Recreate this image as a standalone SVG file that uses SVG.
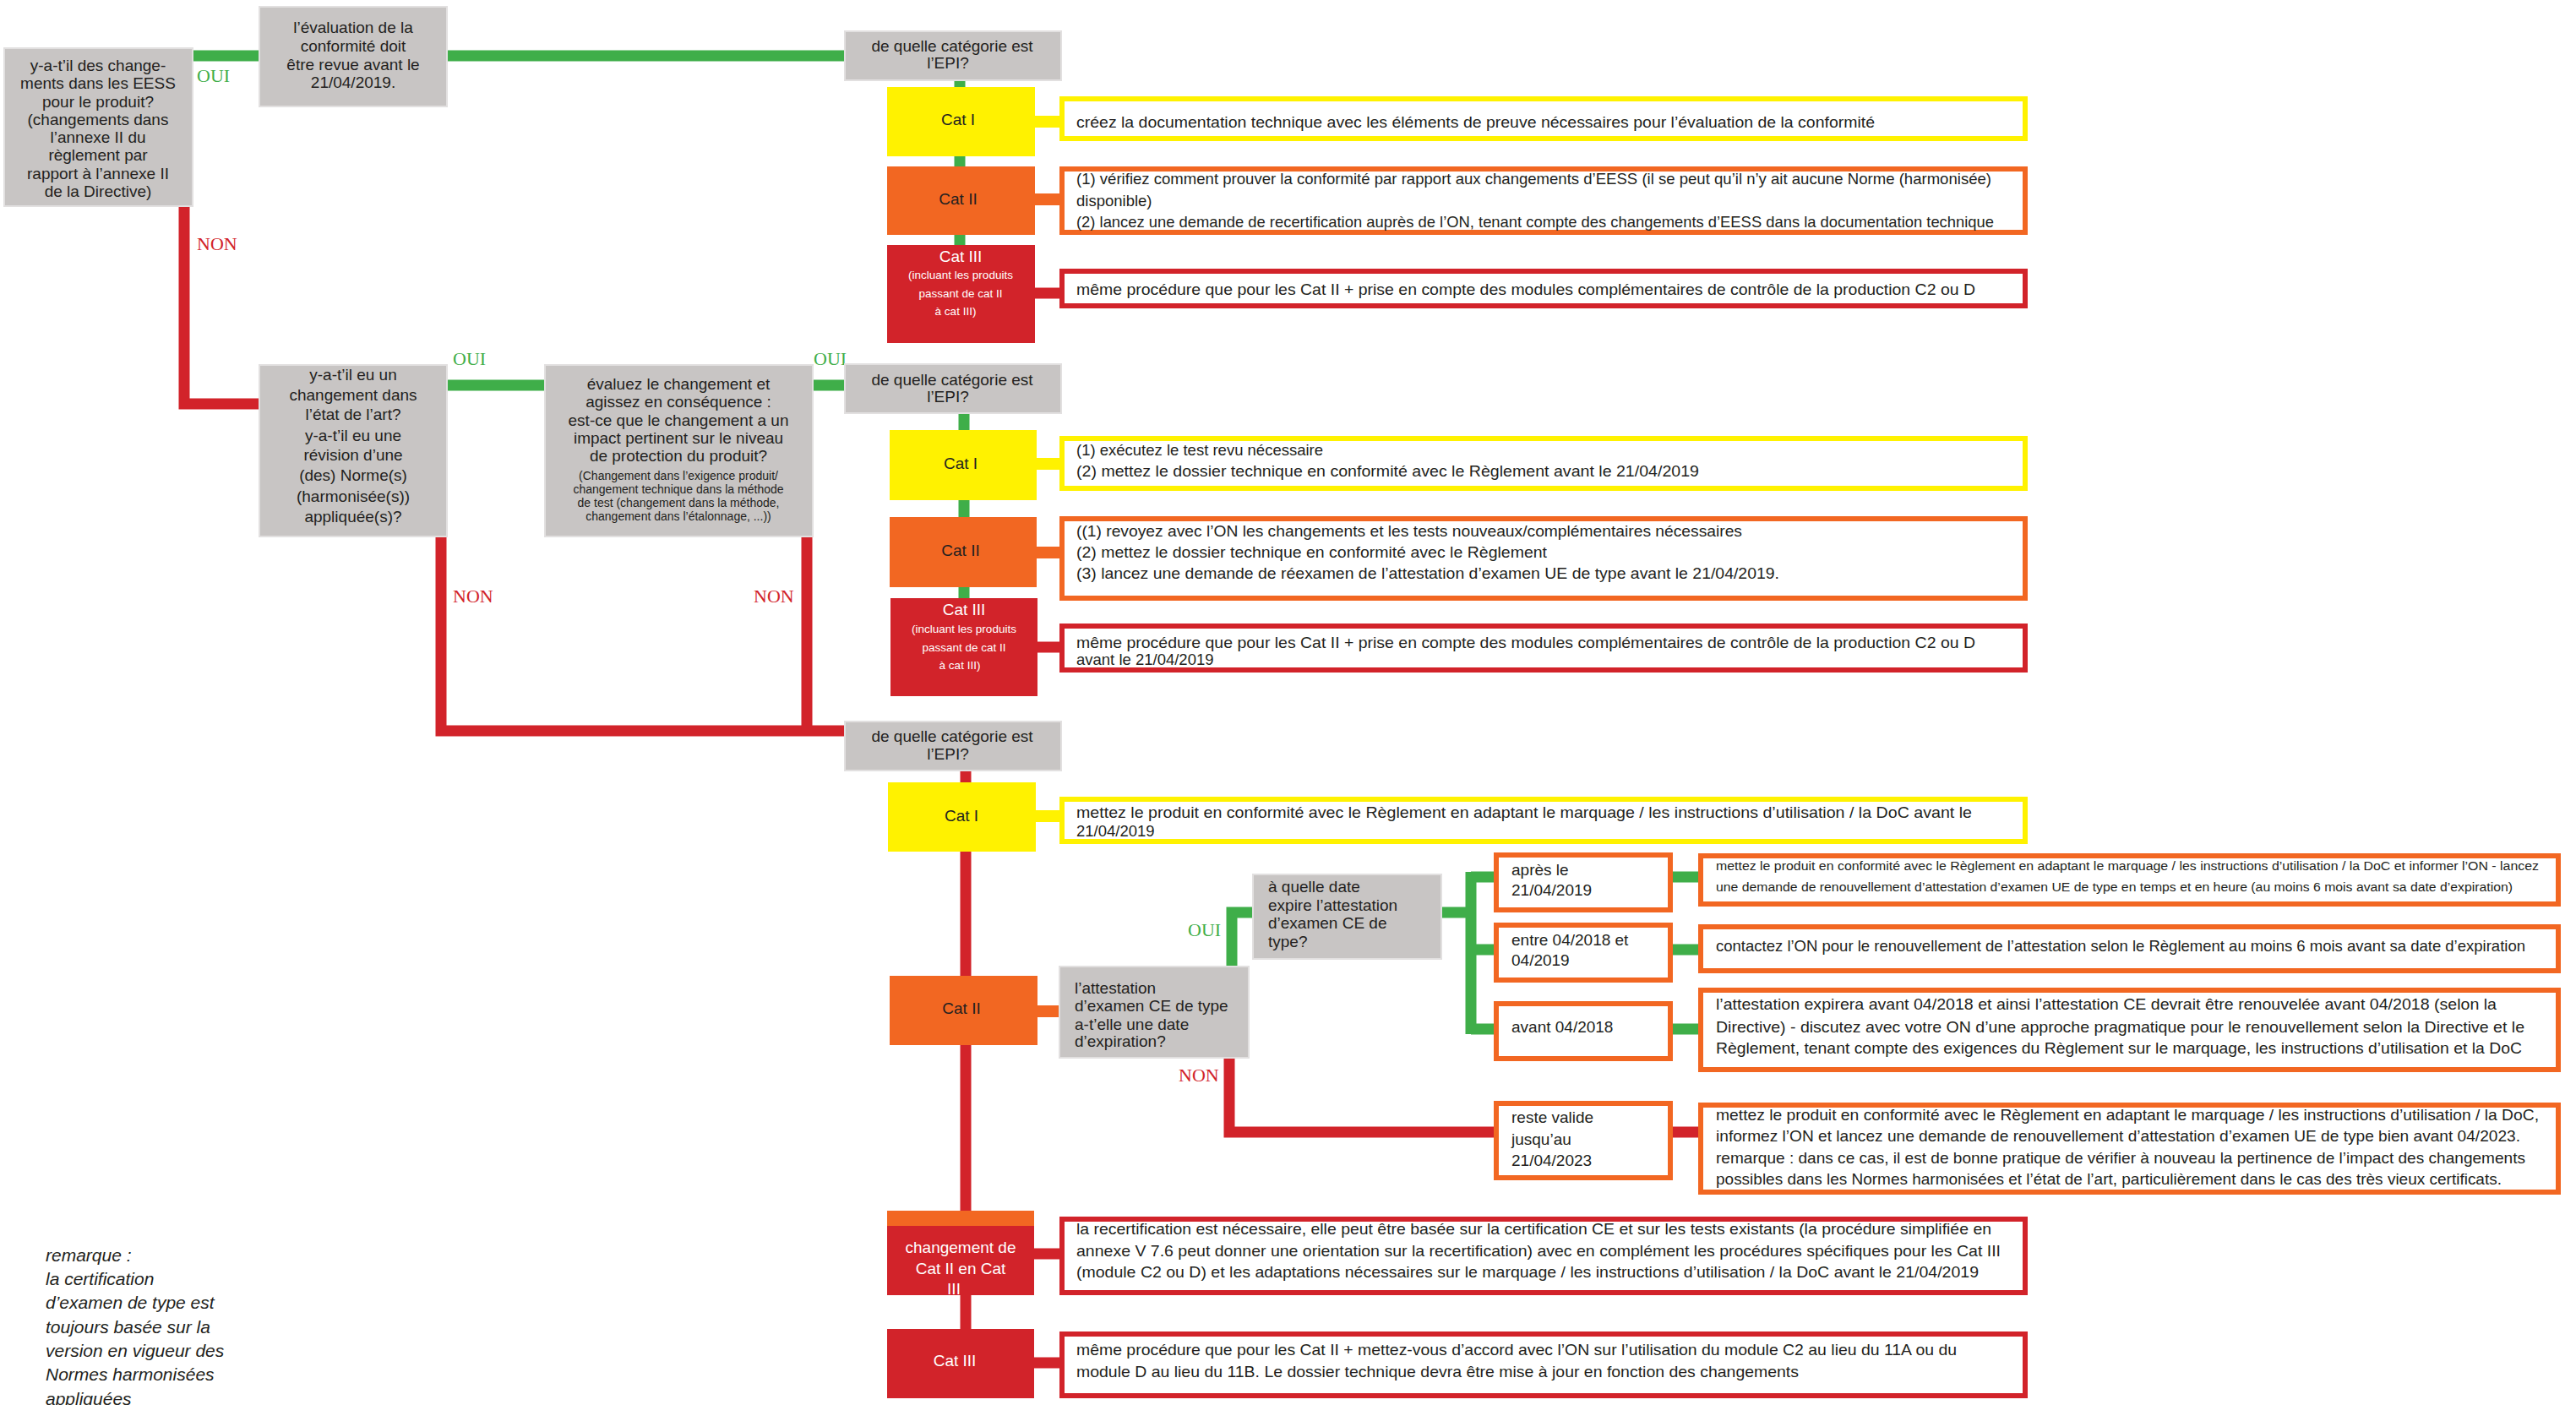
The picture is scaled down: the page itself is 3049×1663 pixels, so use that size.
<svg xmlns="http://www.w3.org/2000/svg" width="3049" height="1663" viewBox="0 0 3049 1663">
<style>
text{font-family:"Liberation Sans",Arial,sans-serif;fill:#231F20;}
.t{font-size:19px;}
.c{text-anchor:middle;}
.bx{font-size:18.5px;}
.sm{font-size:14px;}
.xs{font-size:13.5px;fill:#fff;}
.w{fill:#fff;}
.lab{font-family:"Liberation Serif","Times New Roman",serif;font-size:22px;}
.oui{fill:#3FAE49;}
.non{fill:#D2232A;}
.gray{fill:#C8C5C4;stroke:#E2E0E0;stroke-width:2;}
.y{fill:#FFF200;}
.o{fill:#F26722;}
.r{fill:#D2232A;}
.oy{fill:#fff;stroke:#FFF200;stroke-width:6;}
.oo{fill:#fff;stroke:#F26722;stroke-width:6;}
.or{fill:#fff;stroke:#D2232A;stroke-width:6;}
.cg{fill:none;stroke:#3FAE49;stroke-width:13;stroke-linejoin:miter;}
.cr{fill:none;stroke:#D2232A;stroke-width:13;stroke-linejoin:miter;}
.cy{fill:none;stroke:#FFF200;stroke-width:14;}
.co{fill:none;stroke:#F26722;stroke-width:14;}
.rem{font-size:21px;font-style:italic;}
</style>
<rect width="3049" height="1663" fill="#fff"/>

<g id="connectors">
  <path class="cg" d="M228,66 H307 M529,66 H1000"/>
  <path class="cg" d="M1136,95 V290"/>
  <path class="cy" d="M1224,144 H1256"/>
  <path class="co" d="M1224,236 H1256"/>
  <path class="cr" d="M1224,347 H1256"/>
  <path class="cr" d="M218,244 V478 H307"/>
  <path class="cg" d="M529,456 H645 M962,456 H1000"/>
  <path class="cg" d="M1141,489 V708"/>
  <path class="cy" d="M1226,549 H1256"/>
  <path class="co" d="M1226,654 H1256"/>
  <path class="cr" d="M1227,766 H1256"/>
  <path class="cr" d="M522,635 V865 H1000"/>
  <path class="cr" d="M955,635 V865"/>
  <path class="cr" d="M1143,912 V1573"/>
  <path class="cy" d="M1225,966 H1256"/>
  <path class="co" d="M1227,1197 H1256"/>
  <path class="cr" d="M1223,1484 H1256"/>
  <path class="cr" d="M1223,1613 H1256"/>
  <path class="cg" d="M1458,1144 V1080 H1483"/>
  <path class="cg" d="M1706,1080 H1741 M1741,1032 V1224 M1741,1038 H1768 M1741,1124 H1768 M1741,1218 H1768"/>
  <path class="cg" d="M1980,1038 H2010 M1980,1124 H2010 M1980,1218 H2010"/>
  <path class="cr" d="M1455,1252 V1340 H1768 M1980,1340 H2010"/>
</g>

<g id="labels">
  <text class="lab oui" x="233" y="97">OUI</text>
  <text class="lab non" x="233" y="296">NON</text>
  <text class="lab oui" x="536" y="432">OUI</text>
  <text class="lab oui" x="963" y="432">OUI</text>
  <text class="lab non" x="536" y="713">NON</text>
  <text class="lab non" x="892" y="713">NON</text>
  <text class="lab oui" x="1406" y="1108">OUI</text>
  <text class="lab non" x="1395" y="1280">NON</text>
</g>

<g id="n-changes-eess">
  <rect class="gray" x="5" y="57" width="223" height="187"/>
  <text class="t c" x="116" y="84">y-a-t’il des change-</text>
  <text class="t c" x="116" y="105">ments dans les EESS</text>
  <text class="t c" x="116" y="127">pour le produit?</text>
  <text class="t c" x="116" y="148">(changements dans</text>
  <text class="t c" x="116" y="169">l’annexe II du</text>
  <text class="t c" x="116" y="190">règlement par</text>
  <text class="t c" x="116" y="212">rapport à l’annexe II</text>
  <text class="t c" x="116" y="233">de la Directive)</text>
</g>

<g id="n-evaluation">
  <rect class="gray" x="307" y="8" width="222" height="118"/>
  <text class="t c" x="418" y="39">l’évaluation de la</text>
  <text class="t c" x="418" y="61">conformité doit</text>
  <text class="t c" x="418" y="83">être revue avant le</text>
  <text class="t c" x="418" y="104">21/04/2019.</text>
</g>

<g id="n-cat-q1">
  <rect class="gray" x="1000" y="37" width="256" height="58"/>
  <text class="t c" x="1127" y="61">de quelle catégorie est</text>
  <text class="t c" x="1122" y="81">l’EPI?</text>
</g>

<g id="n1-cat1">
  <rect class="y" x="1050" y="103" width="175" height="82"/>
  <text class="t c" x="1134" y="148">Cat I</text>
</g>
<g id="n1-cat2">
  <rect class="o" x="1050" y="197" width="175" height="81"/>
  <text class="t c" x="1134" y="242">Cat II</text>
</g>
<g id="n1-cat3">
  <rect class="r" x="1050" y="290" width="175" height="116"/>
  <text class="t c w" x="1137" y="310">Cat III</text>
  <text class="xs c" x="1137" y="330">(incluant les produits</text>
  <text class="xs c" x="1137" y="352">passant de cat II</text>
  <text class="xs c" x="1131" y="373">à cat III)</text>
</g>
<g id="a1-cat1">
  <rect class="oy" x="1257" y="117" width="1140" height="47"/>
  <text class="bx" x="1274" y="151" textLength="945" lengthAdjust="spacingAndGlyphs">créez la documentation technique avec les éléments de preuve nécessaires pour l’évaluation de la conformité</text>
</g>
<g id="a1-cat2">
  <rect class="oo" x="1257" y="200" width="1140" height="75"/>
  <text class="bx" x="1274" y="218" textLength="1083" lengthAdjust="spacingAndGlyphs">(1) vérifiez comment prouver la conformité par rapport aux changements d’EESS (il se peut qu’il n’y ait aucune Norme (harmonisée)</text>
  <text class="bx" x="1274" y="244">disponible)</text>
  <text class="bx" x="1274" y="269" textLength="1086" lengthAdjust="spacingAndGlyphs">(2) lancez une demande de recertification auprès de l’ON, tenant compte des changements d’EESS dans la documentation technique</text>
</g>
<g id="a1-cat3">
  <rect class="or" x="1257" y="321" width="1140" height="41"/>
  <text class="bx" x="1274" y="349" textLength="1064" lengthAdjust="spacingAndGlyphs">même procédure que pour les Cat II + prise en compte des modules complémentaires de contrôle de la production C2 ou D</text>
</g>

<g id="n-etat-art">
  <rect class="gray" x="307" y="432" width="222" height="203"/>
  <text class="t c" x="418" y="450">y-a-t’il eu un</text>
  <text class="t c" x="418" y="474">changement dans</text>
  <text class="t c" x="418" y="497">l’état de l’art?</text>
  <text class="t c" x="418" y="522">y-a-t’il eu une</text>
  <text class="t c" x="418" y="545">révision d’une</text>
  <text class="t c" x="418" y="569">(des) Norme(s)</text>
  <text class="t c" x="418" y="594">(harmonisée(s))</text>
  <text class="t c" x="418" y="618">appliquée(s)?</text>
</g>

<g id="n-evaluez">
  <rect class="gray" x="645" y="432" width="317" height="203"/>
  <text class="t c" x="803" y="461">évaluez le changement et</text>
  <text class="t c" x="803" y="482">agissez en conséquence :</text>
  <text class="t c" x="803" y="504">est-ce que le changement a un</text>
  <text class="t c" x="803" y="525">impact pertinent sur le niveau</text>
  <text class="t c" x="803" y="546">de protection du produit?</text>
  <text class="sm c" x="803" y="568">(Changement dans l’exigence produit/</text>
  <text class="sm c" x="803" y="584">changement technique dans la méthode</text>
  <text class="sm c" x="803" y="600">de test (changement dans la méthode,</text>
  <text class="sm c" x="803" y="616">changement dans l’étalonnage, ...))</text>
</g>

<g id="n-cat-q2">
  <rect class="gray" x="1000" y="431" width="256" height="58"/>
  <text class="t c" x="1127" y="456">de quelle catégorie est</text>
  <text class="t c" x="1122" y="476">l’EPI?</text>
</g>
<g id="n2-cat1">
  <rect class="y" x="1053" y="509" width="174" height="83"/>
  <text class="t c" x="1137" y="555">Cat I</text>
</g>
<g id="n2-cat2">
  <rect class="o" x="1053" y="612" width="174" height="83"/>
  <text class="t c" x="1137" y="658">Cat II</text>
</g>
<g id="n2-cat3">
  <rect class="r" x="1054" y="708" width="174" height="116"/>
  <text class="t c w" x="1141" y="728">Cat III</text>
  <text class="xs c" x="1141" y="749">(incluant les produits</text>
  <text class="xs c" x="1141" y="771">passant de cat II</text>
  <text class="xs c" x="1136" y="792">à cat III)</text>
</g>
<g id="a2-cat1">
  <rect class="oy" x="1257" y="519" width="1140" height="59"/>
  <text class="bx" x="1274" y="539">(1) exécutez le test revu nécessaire</text>
  <text class="bx" x="1274" y="564" textLength="737" lengthAdjust="spacingAndGlyphs">(2) mettez le dossier technique en conformité avec le Règlement avant le 21/04/2019</text>
</g>
<g id="a2-cat2">
  <rect class="oo" x="1257" y="614" width="1140" height="94"/>
  <text class="bx" x="1274" y="635" textLength="788" lengthAdjust="spacingAndGlyphs">((1) revoyez avec l’ON les changements et les tests nouveaux/complémentaires nécessaires</text>
  <text class="bx" x="1274" y="660" textLength="557" lengthAdjust="spacingAndGlyphs">(2) mettez le dossier technique en conformité avec le Règlement</text>
  <text class="bx" x="1274" y="685" textLength="832" lengthAdjust="spacingAndGlyphs">(3) lancez une demande de réexamen de l’attestation d’examen UE de type avant le 21/04/2019.</text>
</g>
<g id="a2-cat3">
  <rect class="or" x="1257" y="741" width="1140" height="52"/>
  <text class="bx" x="1274" y="767" textLength="1064" lengthAdjust="spacingAndGlyphs">même procédure que pour les Cat II + prise en compte des modules complémentaires de contrôle de la production C2 ou D</text>
  <text class="bx" x="1274" y="787">avant le 21/04/2019</text>
</g>

<g id="n-cat-q3">
  <rect class="gray" x="1000" y="854" width="256" height="58"/>
  <text class="t c" x="1127" y="878">de quelle catégorie est</text>
  <text class="t c" x="1122" y="899">l’EPI?</text>
</g>
<g id="n3-cat1">
  <rect class="y" x="1051" y="926" width="175" height="82"/>
  <text class="t c" x="1138" y="972">Cat I</text>
</g>
<g id="a3-cat1">
  <rect class="oy" x="1257" y="946" width="1140" height="50"/>
  <text class="bx" x="1274" y="968" textLength="1060" lengthAdjust="spacingAndGlyphs">mettez le produit en conformité avec le Règlement en adaptant le marquage / les instructions d’utilisation / la DoC avant le</text>
  <text class="bx" x="1274" y="990">21/04/2019</text>
</g>
<g id="n3-cat2">
  <rect class="o" x="1053" y="1155" width="175" height="82"/>
  <text class="t c" x="1138" y="1200">Cat II</text>
</g>
<g id="n-expiration">
  <rect class="gray" x="1254" y="1144" width="224" height="108"/>
  <text class="t" x="1272" y="1176">l’attestation</text>
  <text class="t" x="1272" y="1197">d’examen CE de type</text>
  <text class="t" x="1272" y="1219">a-t’elle une date</text>
  <text class="t" x="1272" y="1239">d’expiration?</text>
</g>
<g id="n-quelle-date">
  <rect class="gray" x="1483" y="1035" width="223" height="100"/>
  <text class="t" x="1501" y="1056">à quelle date</text>
  <text class="t" x="1501" y="1078">expire l’attestation</text>
  <text class="t" x="1501" y="1099">d’examen CE de</text>
  <text class="t" x="1501" y="1121">type?</text>
</g>
<g id="j-apres">
  <rect class="oo" x="1771" y="1012" width="206" height="65"/>
  <text class="t" x="1789" y="1036">après le</text>
  <text class="t" x="1789" y="1060">21/04/2019</text>
</g>
<g id="j-entre">
  <rect class="oo" x="1771" y="1095" width="206" height="65"/>
  <text class="t" x="1789" y="1119">entre 04/2018 et</text>
  <text class="t" x="1789" y="1143">04/2019</text>
</g>
<g id="j-avant">
  <rect class="oo" x="1771" y="1188" width="206" height="65"/>
  <text class="t" x="1789" y="1222">avant 04/2018</text>
</g>
<g id="j-valide">
  <rect class="oo" x="1771" y="1306" width="206" height="88"/>
  <text class="t" x="1789" y="1329">reste valide</text>
  <text class="t" x="1789" y="1355">jusqu’au</text>
  <text class="t" x="1789" y="1380">21/04/2023</text>
</g>
<g id="k-apres">
  <rect class="oo" x="2013" y="1013" width="1015" height="57"/>
  <text class="sm" x="2031" y="1030" textLength="974" lengthAdjust="spacingAndGlyphs">mettez le produit en conformité avec le Règlement en adaptant le marquage / les instructions d’utilisation / la DoC et informer l’ON - lancez</text>
  <text class="sm" x="2031" y="1055" textLength="943" lengthAdjust="spacingAndGlyphs">une demande de renouvellement d’attestation d’examen UE de type en temps et en heure (au moins 6 mois avant sa date d’expiration)</text>
</g>
<g id="k-entre">
  <rect class="oo" x="2013" y="1097" width="1015" height="52"/>
  <text class="bx" x="2031" y="1126" textLength="958" lengthAdjust="spacingAndGlyphs">contactez l’ON pour le renouvellement de l’attestation selon le Règlement au moins 6 mois avant sa date d’expiration</text>
</g>
<g id="k-avant">
  <rect class="oo" x="2013" y="1172" width="1015" height="94"/>
  <text class="bx" x="2031" y="1195" textLength="924" lengthAdjust="spacingAndGlyphs">l’attestation expirera avant 04/2018 et ainsi l’attestation CE devrait être renouvelée avant 04/2018 (selon la</text>
  <text class="bx" x="2031" y="1222" textLength="957" lengthAdjust="spacingAndGlyphs">Directive) - discutez avec votre ON d’une approche pragmatique pour le renouvellement selon la Directive et le</text>
  <text class="bx" x="2031" y="1247" textLength="954" lengthAdjust="spacingAndGlyphs">Règlement, tenant compte des exigences du Règlement sur le marquage, les instructions d’utilisation et la DoC</text>
</g>
<g id="k-valide">
  <rect class="oo" x="2013" y="1308" width="1015" height="103"/>
  <text class="bx" x="2031" y="1326" textLength="974" lengthAdjust="spacingAndGlyphs">mettez le produit en conformité avec le Règlement en adaptant le marquage / les instructions d’utilisation / la DoC,</text>
  <text class="bx" x="2031" y="1351" textLength="952" lengthAdjust="spacingAndGlyphs">informez l’ON et lancez une demande de renouvellement d’attestation d’examen UE de type bien avant 04/2023.</text>
  <text class="bx" x="2031" y="1377" textLength="958" lengthAdjust="spacingAndGlyphs">remarque : dans ce cas, il est de bonne pratique de vérifier à nouveau la pertinence de l’impact des changements</text>
  <text class="bx" x="2031" y="1402" textLength="930" lengthAdjust="spacingAndGlyphs">possibles dans les Normes harmonisées et l’état de l’art, particulièrement dans le cas des très vieux certificats.</text>
</g>

<g id="n3-change">
  <rect class="r" x="1050" y="1433" width="174" height="100"/>
  <rect class="o" x="1050" y="1433" width="174" height="18"/>
  <text class="t c w" x="1137" y="1483">changement de</text>
  <text class="t c w" x="1137" y="1508">Cat II en Cat</text>
  <text class="t c w" x="1129" y="1532">III</text>
</g>
<g id="a3-change">
  <rect class="or" x="1257" y="1443" width="1140" height="87"/>
  <text class="bx" x="1274" y="1461" textLength="1083" lengthAdjust="spacingAndGlyphs">la recertification est nécessaire, elle peut être basée sur la certification CE et sur les tests existants (la procédure simplifiée en</text>
  <text class="bx" x="1274" y="1487" textLength="1094" lengthAdjust="spacingAndGlyphs">annexe V 7.6 peut donner une orientation sur la recertification) avec en complément les procédures spécifiques pour les Cat III</text>
  <text class="bx" x="1274" y="1512" textLength="1068" lengthAdjust="spacingAndGlyphs">(module C2 ou D) et les adaptations nécessaires sur le marquage / les instructions d’utilisation / la DoC avant le 21/04/2019</text>
</g>
<g id="n3-cat3">
  <rect class="r" x="1050" y="1573" width="174" height="82"/>
  <text class="t c w" x="1130" y="1617">Cat III</text>
</g>
<g id="a3-cat3">
  <rect class="or" x="1257" y="1579" width="1140" height="73"/>
  <text class="bx" x="1274" y="1604" textLength="1042" lengthAdjust="spacingAndGlyphs">même procédure que pour les Cat II + mettez-vous d’accord avec l’ON sur l’utilisation du module C2 au lieu du 11A ou du</text>
  <text class="bx" x="1274" y="1630" textLength="855" lengthAdjust="spacingAndGlyphs">module D au lieu du 11B. Le dossier technique devra être mise à jour en fonction des changements</text>
</g>

<g id="note">
  <text class="rem" x="54" y="1493">remarque :</text>
  <text class="rem" x="54" y="1521">la certification</text>
  <text class="rem" x="54" y="1549">d’examen de type est</text>
  <text class="rem" x="54" y="1578">toujours basée sur la</text>
  <text class="rem" x="54" y="1606">version en vigueur des</text>
  <text class="rem" x="54" y="1634">Normes harmonisées</text>
  <text class="rem" x="54" y="1663">appliquées</text>
</g>
</svg>
